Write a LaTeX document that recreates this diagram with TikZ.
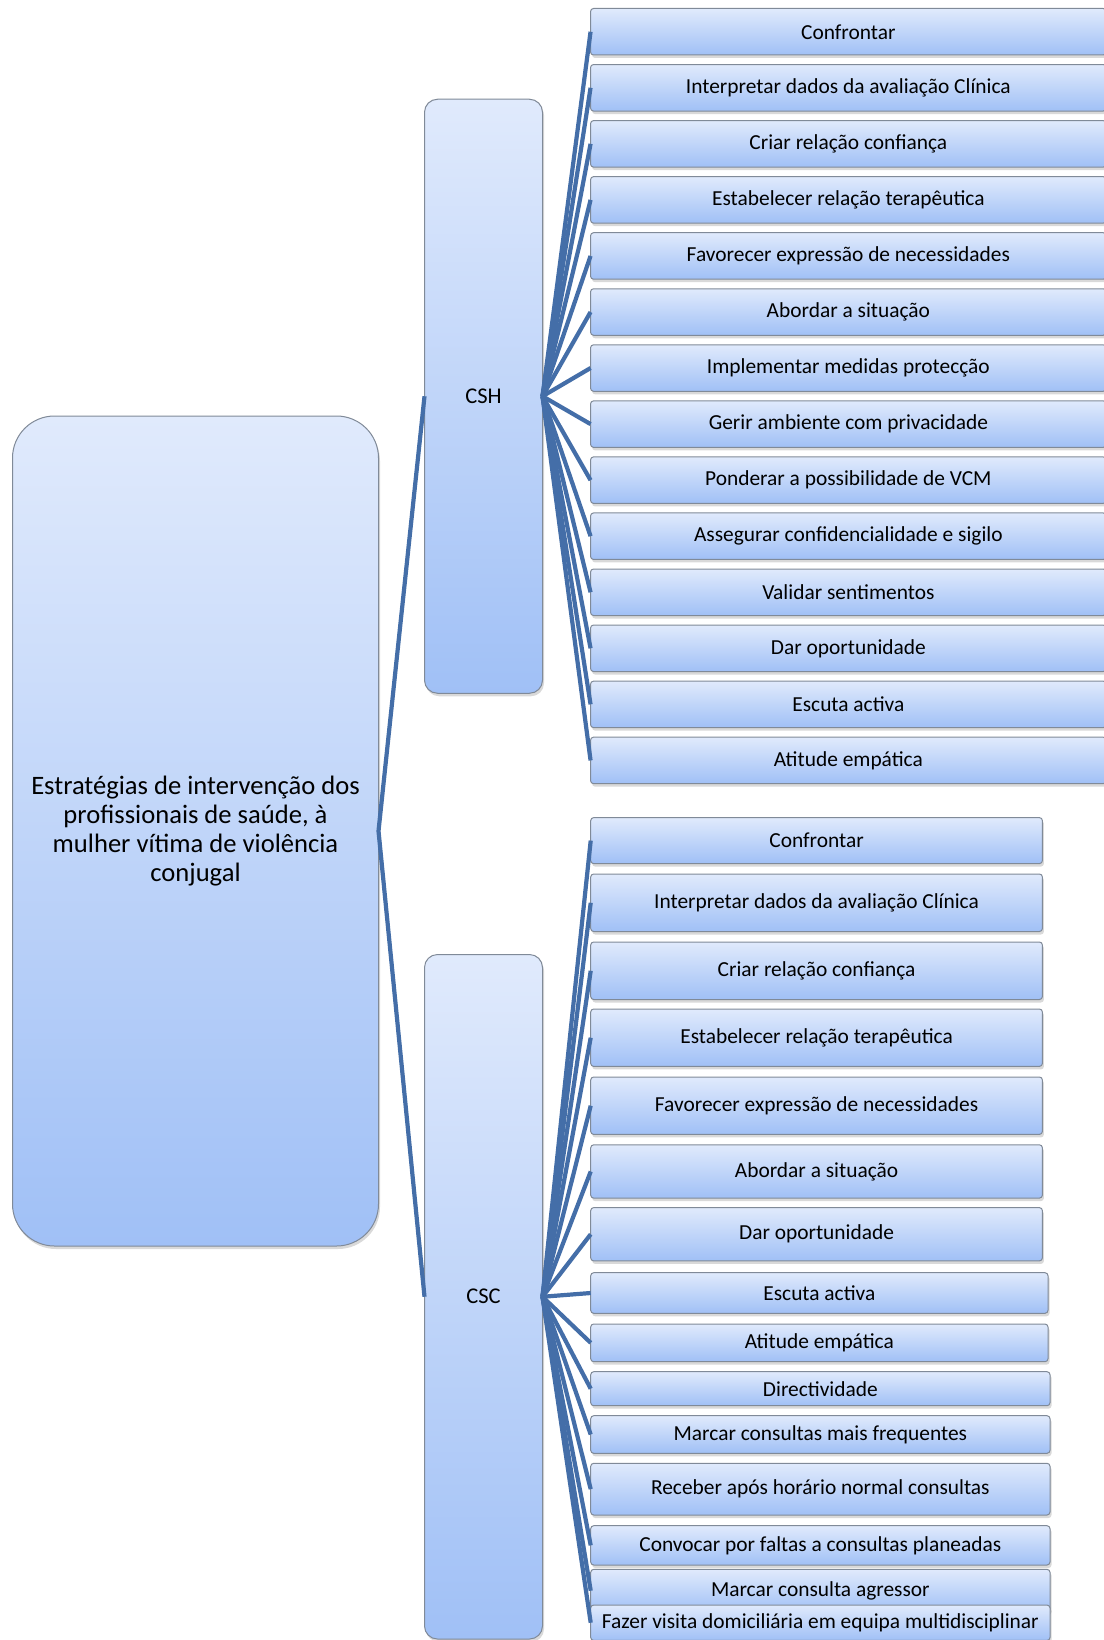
\documentclass[tikz,border=0pt]{standalone}
\usepackage{fontspec}
\setmainfont{Carlito}
\usetikzlibrary{shadows}
\definecolor{linkc}{RGB}{68,110,168}
\definecolor{bordc}{RGB}{128,138,152}
\definecolor{topc}{RGB}{224,234,252}
\definecolor{botc}{RGB}{160,192,246}
\begin{document}
\begin{tikzpicture}[x=1pt,y=-1pt,
  base/.style={draw=bordc, line width=1pt, top color=topc, bottom color=botc, inner sep=0pt, outer sep=0pt,
    drop shadow={shadow xshift=1.5pt, shadow yshift=-3pt, opacity=0.3}},
  rootbox/.style={base, rounded corners=42pt, minimum width=366pt, minimum height=830pt, align=center,
    font=\fontsize{26.6}{29.3}\selectfont},
  midbox/.style={base, rounded corners=13pt, minimum width=118pt, font=\fontsize{22.5}{26}\selectfont},
  leafbox/.style={base, rounded corners=3pt, font=\fontsize{21.4}{25}\selectfont},
  link/.style={draw=linkc, line width=4.2pt}
]
\useasboundingbox (0,0) rectangle (1103,1640);

% root and middle level
\node[rootbox] (root) at (195.5,831) {Estratégias de intervenção dos\\profissionais de saúde, à\\mulher vítima de violência\\conjugal};
\node[midbox, minimum height=594pt] (csh) at (483.5,396.25) {CSH};
\node[midbox, minimum height=684.5pt] (csc) at (483.5,1296.75) {CSC};

% CSH leaves
\foreach \t [count=\i from 0] in {Confrontar,Interpretar dados da avaliação Clínica,Criar relação confiança,Estabelecer relação terapêutica,Favorecer expressão de necessidades,Abordar a situação,Implementar medidas protecção,Gerir ambiente com privacidade,Ponderar a possibilidade de VCM,Assegurar confidencialidade e sigilo,Validar sentimentos,Dar oportunidade,Escuta activa,Atitude empática}
  \node[leafbox, minimum width=515.6pt, minimum height=46.5pt] (h\i) at (848.35,{31.75+56.05*\i}) {\t};

% CSC leaves
\node[leafbox, minimum width=451.7pt, minimum height=46pt]   (c1)  at (816.55,840.6)  {Confrontar};
\node[leafbox, minimum width=451.7pt, minimum height=57.5pt] (c2)  at (816.55,902.75) {Interpretar dados da avaliação Clínica};
\node[leafbox, minimum width=451.7pt, minimum height=57.5pt] (c3)  at (816.55,970.75) {Criar relação confiança};
\node[leafbox, minimum width=451.7pt, minimum height=57.4pt] (c4)  at (816.55,1037.7) {Estabelecer relação terapêutica};
\node[leafbox, minimum width=451.7pt, minimum height=57.4pt] (c5)  at (816.55,1105.7) {Favorecer expressão de necessidades};
\node[leafbox, minimum width=451.7pt, minimum height=53.3pt] (c6)  at (816.55,1171.45) {Abordar a situação};
\node[leafbox, minimum width=451.7pt, minimum height=53.3pt] (c7)  at (816.55,1234.25) {Dar oportunidade};
\node[leafbox, minimum width=457.3pt, minimum height=40.6pt] (c8)  at (819.35,1293) {Escuta activa};
\node[leafbox, minimum width=457.3pt, minimum height=37.7pt] (c9)  at (819.35,1342.85) {Atitude empática};
\node[leafbox, minimum width=459.3pt, minimum height=34pt]   (c10) at (820.35,1388.7) {Directividade};
\node[leafbox, minimum width=459.3pt, minimum height=37.6pt] (c11) at (820.35,1434.5) {Marcar consultas mais frequentes};
\node[leafbox, minimum width=459.3pt, minimum height=51.7pt] (c12) at (820.35,1489.15) {Receber após horário normal consultas};
\node[leafbox, minimum width=459.3pt, minimum height=39.3pt] (c13) at (820.35,1545.35) {Convocar por faltas a consultas planeadas};
\node[leafbox, minimum width=459.3pt, minimum height=42.7pt] (c14) at (820.35,1590.7) {Marcar consulta agressor};
\node[leafbox, minimum width=459.3pt, minimum height=35.4pt] (c15) at (820.35,1622.7) {Fazer visita domiciliária em equipa multidisciplinar};

% connectors
\draw[link] (root.east) -- (csh.west);
\draw[link] (root.east) -- (csc.west);
\foreach \i in {0,...,13} \draw[link] (csh.east) -- (h\i.west);
\foreach \i in {1,...,15} \draw[link] (csc.east) -- (c\i.west);
\end{tikzpicture}
\end{document}
